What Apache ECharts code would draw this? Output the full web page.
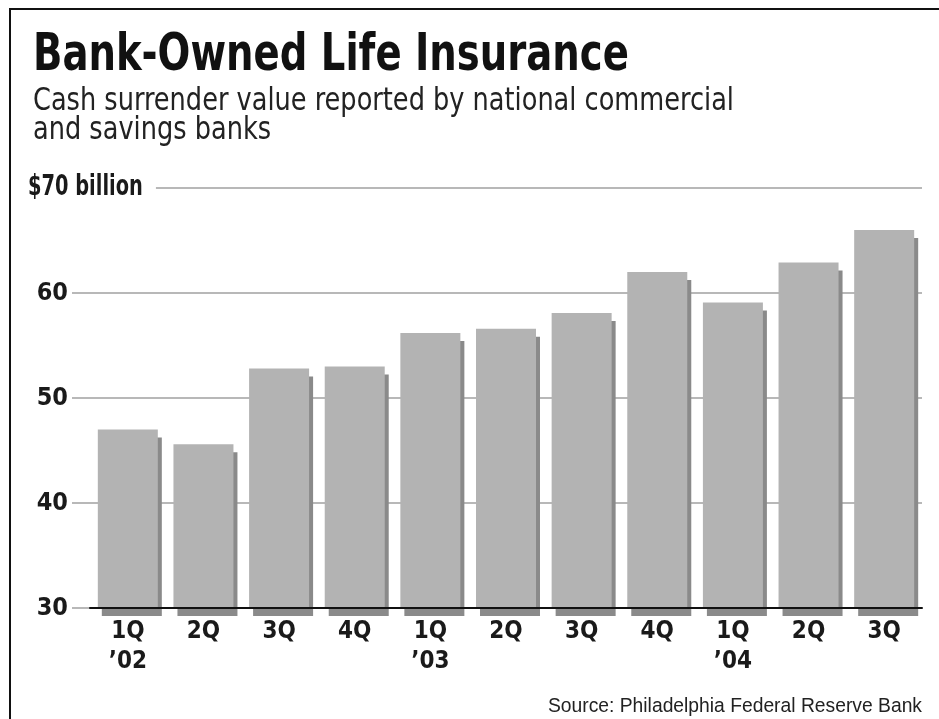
<!DOCTYPE html>
<html>
<head>
<meta charset="utf-8">
<title>Bank-Owned Life Insurance</title>
<script src="https://cdn.jsdelivr.net/npm/echarts@6/dist/echarts.min.js"></script>
<style>
  html, body { margin: 0; padding: 0; background: #fff; }
  #chart { width: 939px; height: 719px; }
</style>
</head>
<body>
<div id="chart"></div>
<script>
// quarters, end of period
const categories = ['1Q\n\u201902', '2Q', '3Q', '4Q', '1Q\n\u201903', '2Q', '3Q', '4Q', '1Q\n\u201904', '2Q', '3Q']
// cash surrender value, $ billion
const values = [47.0, 45.6, 52.8, 53.0, 56.2, 56.6, 58.1, 62.0, 59.1, 62.9, 66.0]
const yTicks = [30, 40, 50, 60, 70]
const topTickLabel = '$70 billion'

const cond = '"DejaVu Sans Condensed", "Liberation Sans Narrow", sans-serif'

const chart = echarts.init(document.getElementById('chart'))

const option = {
	backgroundColor: '#fff',
	animation: false,
	title: {
		text: 'Source: Philadelphia Federal Reserve Bank',
		right: 12,
		top: 692,
		textStyle: { fontFamily: '"Liberation Sans", Arial, sans-serif', fontWeight: 'normal', fontSize: 19.3, color: '#222' }
	},
	graphic: [
		{
			type: 'polyline',
			shape: { points: [[10, 720], [10, 9], [940, 9]] },
			style: { stroke: '#111', lineWidth: 2, fill: null },
			silent: true
		},
		// headline, squeezed to look like a condensed face
		{
			type: 'text', x: 33, y: 56, scaleX: 0.825, silent: true,
			style: {
				text: 'Bank-Owned Life Insurance',
				fontFamily: cond, fontWeight: 'bold', fontSize: 52,
				fill: '#111', verticalAlign: 'middle'
			}
		},
		{
			type: 'text', x: 33, y: 101.5, scaleX: 0.89, silent: true,
			style: {
				text: 'Cash surrender value reported by national commercial',
				fontFamily: cond, fontWeight: 'normal', fontSize: 32,
				fill: '#222', verticalAlign: 'middle'
			}
		},
		{
			type: 'text', x: 33, y: 130.5, scaleX: 0.89, silent: true,
			style: {
				text: 'and savings banks',
				fontFamily: cond, fontWeight: 'normal', fontSize: 32,
				fill: '#222', verticalAlign: 'middle'
			}
		},
		// top tick label, white box hides the gridline behind it
		{
			type: 'text', x: 28, y: 188, scaleX: 0.77, z: 10, silent: true,
			style: {
				text: topTickLabel,
				fontFamily: cond, fontWeight: 'bold', fontSize: 28,
				fill: '#1a1a1a', verticalAlign: 'middle',
				backgroundColor: '#fff', padding: [4, 17, 4, 0]
			}
		}
	],
	grid: { left: 90, right: 17, top: 188, bottom: 111 },
	xAxis: {
		type: 'category',
		data: categories,
		z: 5,
		axisLine: { show: true, lineStyle: { color: '#111', width: 2 } },
		axisTick: { show: false },
		axisLabel: {
			margin: 9,
			fontFamily: cond,
			fontWeight: 'bold',
			fontSize: 24,
			lineHeight: 30,
			color: '#1a1a1a'
		}
	},
	yAxis: {
		type: 'value',
		min: yTicks[0],
		max: yTicks[yTicks.length - 1],
		interval: 10,
		z: 0,
		axisLine: { show: false },
		axisTick: { show: true, inside: false, length: 18, lineStyle: { color: '#b8b8b8', width: 2 } },
		splitLine: { show: true, lineStyle: { color: '#b8b8b8', width: 2 } },
		axisLabel: {
			margin: 22,
			fontFamily: cond,
			fontWeight: 'bold',
			fontSize: 25,
			color: '#1a1a1a',
			formatter: function (v) {
				return v === yTicks[yTicks.length - 1] ? '' : String(v)
			}
		}
	},
	series: [
		{
			type: 'bar',
			data: values,
			barWidth: 60,
			z: 2,
			itemStyle: {
				color: '#b3b3b3',
				shadowColor: '#8a8a8a',
				shadowBlur: 0,
				shadowOffsetX: 4,
				shadowOffsetY: 8
			}
		}
	]
}

chart.setOption(option)
</script>
</body>
</html>
